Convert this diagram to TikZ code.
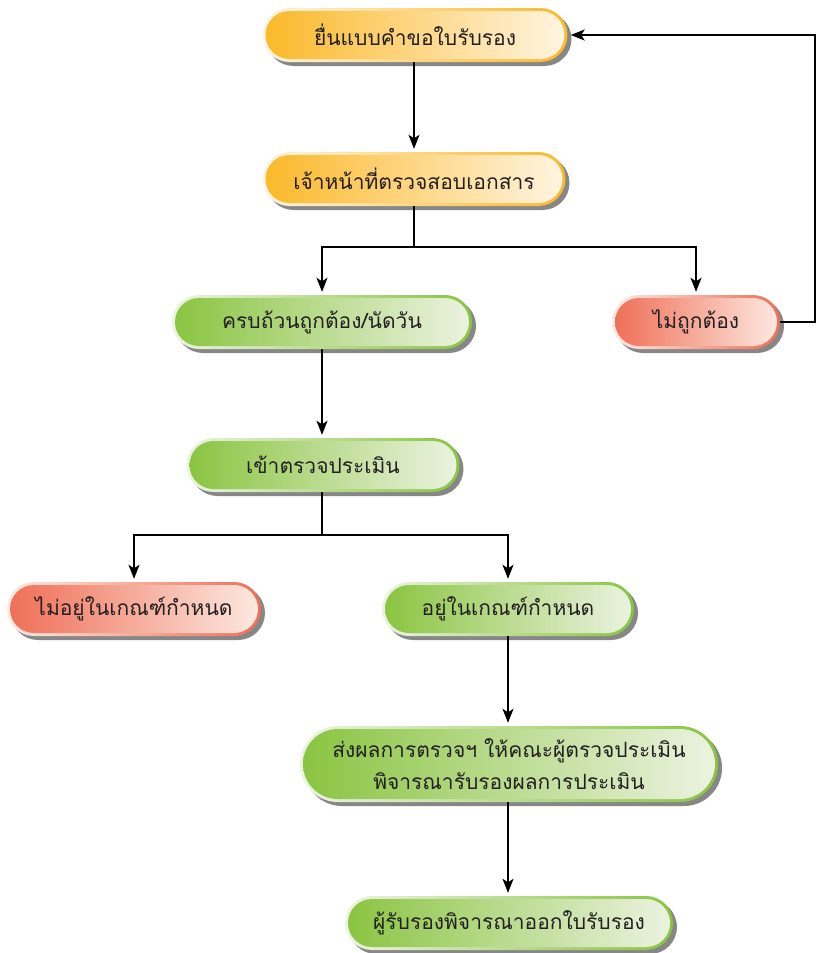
\documentclass[tikz,border=0pt]{standalone}
\usepackage{fontspec}
\newfontfamily\thaifont[Script=Thai]{Loma}
\usetikzlibrary{arrows.meta,shadows}
\definecolor{ormain}{RGB}{251,184,41}
\definecolor{orpale}{RGB}{255,245,226}
\definecolor{grmain}{RGB}{138,196,64}
\definecolor{grpale}{RGB}{236,243,226}
\definecolor{rdmain}{RGB}{239,110,86}
\definecolor{rdpale}{RGB}{253,234,226}
\definecolor{pillshadow}{RGB}{135,135,135}
\definecolor{pilltext}{RGB}{35,31,32}
\tikzset{
  flowarrow/.style={-{Stealth[length=14pt, width=11pt, inset=3.5pt]}, line width=1.9pt, shorten >=3pt},
  flowline/.style={line width=1.9pt},
  pill/.style n args={3}{rectangle, rounded corners=#3pt/2, minimum height=#3pt, inner sep=0pt, align=center,
    text=pilltext, font=\thaifont\fontsize{21}{32}\selectfont,
    drop shadow={shadow xshift=4pt, shadow yshift=-4pt, opacity=1, fill=pillshadow},
    left color=#2, right color=#1,
    path picture={\shade[left color=#1, right color=#2, rounded corners=#3pt/2-3pt]
      ([shift={(3pt,3pt)}]path picture bounding box.south west) rectangle
      ([shift={(-3pt,-3pt)}]path picture bounding box.north east);}},
  orangepill/.style={pill={ormain}{orpale}{#1}}, orangepill/.default=54,
  greenpill/.style={pill={grmain}{grpale}{#1}}, greenpill/.default=54,
  redpill/.style={pill={rdmain}{rdpale}{#1}}, redpill/.default=54
}
\begin{document}
\begin{tikzpicture}[x=1pt, y=-1pt]
  \useasboundingbox (0,0) rectangle (817,953);
  % boxes
  \node[orangepill, minimum width=305pt] (apply) at (415,35) {ยื่นแบบคำขอใบรับรอง};
  \node[orangepill, minimum width=303pt] (docheck) at (414,179) {เจ้าหน้าที่ตรวจสอบเอกสาร};
  \node[greenpill, minimum width=300pt] (complete) at (322,322) {ครบถ้วนถูกต้อง/นัดวัน};
  \node[redpill, minimum width=168pt] (wrong) at (696,322) {ไม่ถูกต้อง};
  \node[greenpill, minimum width=273pt] (assess) at (323,465) {เข้าตรวจประเมิน};
  \node[redpill, minimum width=254pt] (fail) at (134,609) {ไม่อยู่ในเกณฑ์กำหนด};
  \node[greenpill, minimum width=252pt] (pass) at (508,609) {อยู่ในเกณฑ์กำหนด};
  \node[greenpill=76, minimum width=418pt] (submit) at (509,764) {ส่งผลการตรวจฯ ให้คณะผู้ตรวจประเมิน\\พิจารณารับรองผลการประเมิน};
  \node[greenpill, minimum width=328pt] (issue) at (509,923) {ผู้รับรองพิจารณาออกใบรับรอง};
  % connectors
  \draw[flowarrow] (docheck.north |- apply.south) -- (docheck.north);
  \draw[flowline] (docheck.south) -- ++(0,41) coordinate (split1);
  \draw[flowarrow] (split1) -| (complete);
  \draw[flowarrow] (split1) -| (wrong);
  \draw[flowarrow] (wrong.east) -- ++(35,0) |- (apply.east);
  \draw[flowarrow] (complete.south) -- (complete.south |- assess.north);
  \draw[flowline] (complete.south |- assess.south) -- ++(0,43) coordinate (split2);
  \draw[flowarrow] (split2) -| (fail);
  \draw[flowarrow] (split2) -| (pass);
  \draw[flowarrow] (pass) -- (pass |- submit.north);
  \draw[flowarrow] (pass |- submit.south) -- (pass |- issue.north);
\end{tikzpicture}
\end{document}
